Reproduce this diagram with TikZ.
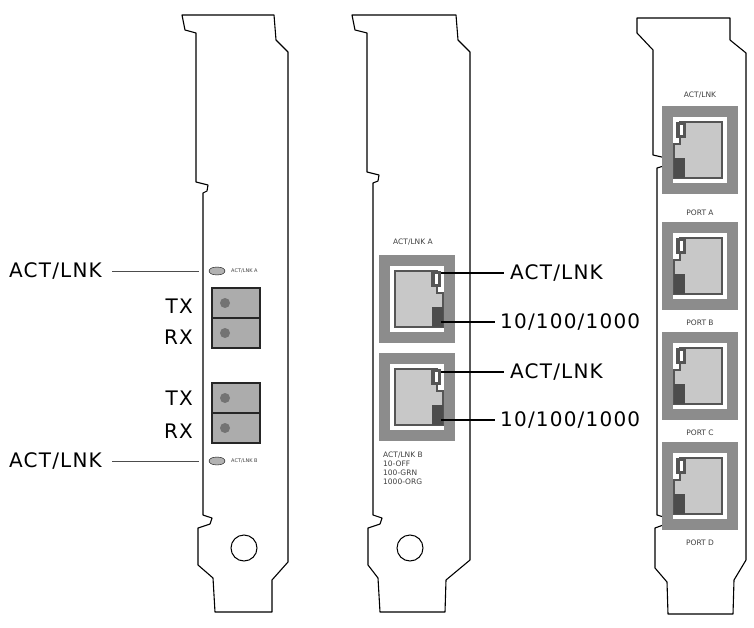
\documentclass[tikz,border=0pt]{standalone}
\usepackage{fontspec}
\setmainfont{DejaVu Sans}
\usetikzlibrary{positioning}

\definecolor{plate}{HTML}{8C8C8C}
\definecolor{jackin}{HTML}{C8C8C8}
\definecolor{jackline}{HTML}{555555}

\tikzset{
  bracket/.style={draw=black, line width=1.1pt, fill=white, line join=round},
  biglabel/.style={font=\fontsize{20}{20}\selectfont\addfontfeature{LetterSpace=6}, inner sep=0pt},
  small/.style={font=\fontsize{7.5}{9}\selectfont, inner sep=0pt, text=black!75},
  tiny/.style={font=\fontsize{5}{5}\selectfont, inner sep=0pt, text=black!75},
  leader/.style={line width=0.6pt, black!70},
  pointer/.style={line width=1.3pt, black},
}

% RJ45 jack, centred at #1, mirrored with #2 = 1 or -1
\newcommand{\rjjack}[2]{%
  \begin{scope}[shift={#1}, xscale=#2]
    \fill[plate] (-38,-44) rectangle (38,44);
    \fill[white] (-27,-33) rectangle (27,33);
    \draw[jackline, line width=1.2pt, fill=jackin]
      (-22,-28) -- (20,-28) -- (20,-6) -- (26,-6) -- (26,28) -- (-22,28) -- cycle;
    \fill[jackline] (14,-28) rectangle (24,-12);
    \fill[white] (17.5,-25) rectangle (20.5,-15);
    \fill[black!70] (15,8) rectangle (26,28);
  \end{scope}}

% fibre port cell at #1
\newcommand{\fibrecell}[1]{%
  \draw[black!85, line width=1.6pt, fill=gray!65] #1 rectangle ++(48,30);
  \fill[gray!90!black] #1 ++(13,15) circle (5);}

\begin{document}
\begin{tikzpicture}[x=1pt, y=-1pt]
\useasboundingbox (0,0) rectangle (754,628);

% left bracket
\draw[bracket] (182,15) -- (185,30) -- (196,33) -- (196,182) -- (208,185) -- (207,191) -- (203,193)
  -- (203,515) -- (212,518) -- (210,524) -- (198,528) -- (198,565) -- (213,578) -- (215,612)
  -- (272,612) -- (272,580) -- (288,562) -- (288,52) -- (276,40) -- (274,15) -- cycle;
\draw[line width=1pt] (244,548) circle (13);

\draw[black, fill=gray!60] (217,271) ellipse (8 and 4);
\draw[black, fill=gray!60] (217,461) ellipse (8 and 4);
\node[tiny, anchor=west] (ledAtxt) at (231,271) {ACT/LNK A};
\node[tiny, anchor=west] (ledBtxt) at (231,461) {ACT/LNK B};
\fibrecell{(212,288)}
\fibrecell{(212,318)}
\fibrecell{(212,383)}
\fibrecell{(212,413)}

\node[biglabel, anchor=west] (actA) at (9,271) {ACT/LNK};
\node[biglabel, anchor=west] (actB) at (9,461) {ACT/LNK};
\coordinate (edgeA) at (199,271);
\coordinate (edgeB) at (199,461);
\draw[leader] (actA.east) ++(10,0) -- (edgeA);
\draw[leader] (actB.east) ++(10,0) -- (edgeB);
\node[biglabel, anchor=east] (txA) at (193,306) {TX};
\node[biglabel, anchor=east] (rxA) at (193,337) {RX};
\node[biglabel, anchor=east] (txB) at (193,398) {TX};
\node[biglabel, anchor=east] (rxB) at (193,431) {RX};

% middle bracket
\draw[bracket] (352,15) -- (355,30) -- (367,33) -- (367,172) -- (379,175) -- (378,181) -- (373,183)
  -- (373,515) -- (382,518) -- (380,524) -- (368,528) -- (368,565) -- (378,578) -- (380,612)
  -- (445,612) -- (446,580) -- (470,560) -- (470,52) -- (458,40) -- (456,15) -- cycle;
\draw[line width=1pt] (410,548) circle (13);

\node[small] (portAtxt) at (413,242) {ACT/LNK A};
\rjjack{(417,299)}{1}
\rjjack{(417,397)}{1}
\node[small, anchor=north west, align=left] (legend) at (383,452)
  {ACT/LNK B\\10-OFF\\100-GRN\\1000-ORG};

\coordinate (ledA1) at (441,273);
\coordinate (ledA2) at (441,322);
\coordinate (ledB1) at (441,372);
\coordinate (ledB2) at (441,420);
\node[biglabel, anchor=west] (lnk1) at (510,273) {ACT/LNK};
\node[biglabel, anchor=west] (spd1) at (500,322) {10/100/1000};
\node[biglabel, anchor=west] (lnk2) at (510,372) {ACT/LNK};
\node[biglabel, anchor=west] (spd2) at (500,420) {10/100/1000};
\draw[pointer] (ledA1) -- ([xshift=-6pt]lnk1.west);
\draw[pointer] (ledA2) -- ([xshift=-5pt]spd1.west);
\draw[pointer] (ledB1) -- ([xshift=-6pt]lnk2.west);
\draw[pointer] (ledB2) -- ([xshift=-5pt]spd2.west);

% right bracket
\draw[bracket] (637,18) -- (730,18) -- (730,40) -- (746,53) -- (746,560) -- (734,580) -- (733,614)
  -- (668,614) -- (667,582) -- (655,568) -- (655,528) -- (666,524) -- (667,518) -- (657,515)
  -- (657,168) -- (667,165) -- (666,158) -- (653,155) -- (653,50) -- (637,33) -- cycle;

\node[small] (rtop) at (700,95) {ACT/LNK};
\rjjack{(700,150)}{-1}
\node[small] (rportA) at (700,213) {PORT A};
\rjjack{(700,266)}{-1}
\node[small] (rportB) at (700,323) {PORT B};
\rjjack{(700,376)}{-1}
\node[small] (rportC) at (700,433) {PORT C};
\rjjack{(700,486)}{-1}
\node[small] (rportD) at (700,543) {PORT D};

\end{tikzpicture}
\end{document}
